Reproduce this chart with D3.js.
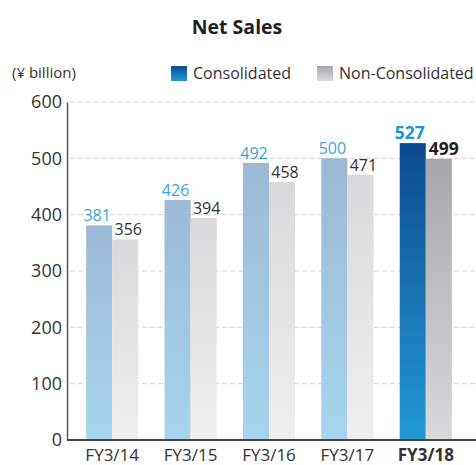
<!DOCTYPE html>
<html>
<head>
<meta charset="utf-8">
<script src="https://cdn.jsdelivr.net/npm/d3@7"></script>
<style>
  body { margin: 0; background: #fff; }
  svg { display: block; font-family: "Open Sans", sans-serif; }
</style>
</head>
<body>
<svg id="chart" width="476" height="465"></svg>
<script>
// data
const years = ["FY3/14", "FY3/15", "FY3/16", "FY3/17", "FY3/18"];
const consolidated = [381, 426, 492, 500, 527];
const nonConsolidated = [356, 394, 458, 471, 499];
const yTicks = [0, 100, 200, 300, 400, 500, 600];
const seriesNames = ["Consolidated", "Non-Consolidated"];

const svg = d3.select("#chart");
const defs = svg.append("defs");

function gradient(id, top, bottom) {
    let g = defs.append("linearGradient")
        .attr("id", id)
        .attr("x1", 0).attr("y1", 0)
        .attr("x2", 0).attr("y2", 1);
    g.append("stop").attr("offset", "0%").attr("stop-color", top);
    g.append("stop").attr("offset", "100%").attr("stop-color", bottom);
}
gradient("conPast", "#9cb8d5", "#a7d5ed");
gradient("nonPast", "#d9d9db", "#efefef");
gradient("conLast", "#0c4b8f", "#2399d7");
gradient("nonLast", "#a6a7ab", "#d8d9db");

const axisX = 67, plotRight = 476;
const y = d3.scaleLinear().domain([0, 600]).range([440, 102]);
const x = d3.scaleBand().domain(years).range([73, 465])
    .paddingInner(0.335).paddingOuter(0.1675);
const sub = d3.scaleBand().domain(seriesNames).range([0, x.bandwidth()]);
const last = years.length - 1;

// title
svg.append("text")
    .attr("x", 237).attr("y", 34)
    .attr("text-anchor", "middle")
    .style("font-size", "19.5px").style("font-weight", "bold")
    .attr("fill", "#231f20")
    .text("Net Sales");

// unit
svg.append("text")
    .attr("x", 12).attr("y", 78)
    .style("font-size", "15px").attr("fill", "#333")
    .text("(¥ billion)");

// legend
const legend = [
    {name: seriesNames[0], fill: "url(#conLast)", x: 171},
    {name: seriesNames[1], fill: "url(#nonLast)", x: 317}
];
const lg = svg.append("g");
lg.selectAll("rect").data(legend).join("rect")
    .attr("x", d => d.x).attr("y", 66)
    .attr("width", 16).attr("height", 15)
    .attr("fill", d => d.fill);
lg.selectAll("text").data(legend).join("text")
    .attr("x", d => d.x + 22).attr("y", 79)
    .style("font-size", "16px").attr("fill", "#333")
    .text(d => d.name);

// grid
svg.append("g")
    .selectAll("line")
    .data(yTicks.filter(t => t > 0))
    .join("line")
    .attr("x1", axisX + 3).attr("x2", plotRight)
    .attr("y1", d => y(d)).attr("y2", d => y(d))
    .attr("stroke", "#d4d4d4")
    .attr("stroke-dasharray", "5,3");

// y axis
const yAxis = svg.append("g")
    .attr("transform", `translate(${axisX},0)`)
    .call(d3.axisLeft(y).tickValues(yTicks).tickSize(0).tickPadding(5));
yAxis.select(".domain").attr("stroke", "#555").attr("stroke-width", 1.5);
yAxis.selectAll("text")
    .style("font-size", "18px").style("font-family", "Open Sans, sans-serif")
    .attr("fill", "#333");

// bars
const groups = svg.append("g")
    .selectAll("g")
    .data(years.map((yr, i) => ({yr, i, vals: [consolidated[i], nonConsolidated[i]]})))
    .join("g")
    .attr("transform", d => `translate(${x(d.yr)},0)`);

groups.selectAll("rect")
    .data(d => d.vals.map((v, k) => ({v, k, i: d.i})))
    .join("rect")
    .attr("x", d => sub(seriesNames[d.k]))
    .attr("y", d => y(d.v))
    .attr("width", sub.bandwidth())
    .attr("height", d => y(0) - y(d.v))
    .attr("fill", d => {
        let base = d.k === 0 ? "con" : "non";
        return `url(#${base}${d.i === last ? "Last" : "Past"})`;
    });

// value labels, nudged apart a little like the original
groups.selectAll("text")
    .data(d => d.vals.map((v, k) => ({v, k, i: d.i})))
    .join("text")
    .attr("x", d => {
        let nudge = d.k === 0 ? -2 : 3;
        if (d.i === last) nudge = d.k === 0 ? -3 : 5;
        return sub(seriesNames[d.k]) + sub.bandwidth() / 2 + nudge;
    })
    .attr("y", d => y(d.v) - 4)
    .attr("text-anchor", "middle")
    .style("font-size", d => d.i === last ? "17.5px" : "16px")
    .style("font-weight", d => d.i === last ? "bold" : "normal")
    .attr("fill", d => d.k === 0 ? (d.i === last ? "#1e95d6" : "#3ea3dd") : (d.i === last ? "#231f20" : "#333"))
    .text(d => d.v);

// x axis
const xAxis = svg.append("g")
    .attr("transform", `translate(0,${y(0)})`)
    .call(d3.axisBottom(x).tickSize(0).tickPadding(9));
xAxis.select(".domain").remove();
svg.append("line")
    .attr("x1", axisX).attr("x2", plotRight)
    .attr("y1", y(0)).attr("y2", y(0))
    .attr("stroke", "#444").attr("stroke-width", 2);
xAxis.selectAll("text")
    .style("font-size", "17px").style("font-family", "Open Sans, sans-serif")
    .style("font-weight", (d, i) => i === last ? "bold" : "normal")
    .attr("fill", "#333");
</script>
</body>
</html>
